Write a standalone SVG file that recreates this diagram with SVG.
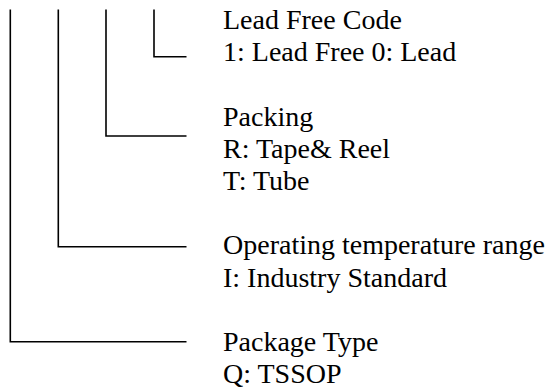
<svg xmlns="http://www.w3.org/2000/svg" width="549" height="390" viewBox="0 0 549 390">
<style>
.c{fill:none;stroke:#000;stroke-width:1.6;stroke-linecap:butt;stroke-linejoin:miter}
.t{font-family:"Liberation Serif","Times New Roman",serif;font-size:28px;fill:#000}
</style>
<rect width="549" height="390" fill="#fff"/>
<g id="connectors">
<path class="c" d="M154,9.5 V56.7 H186.5"/>
<path class="c" d="M106,9.5 V136 H186.5"/>
<path class="c" d="M58.3,9.5 V246.7 H186.5"/>
<path class="c" d="M10.3,9.5 V341.7 H186.5"/>
</g>
<g id="lead-free">
<text class="t" x="223" y="29">Lead Free Code</text>
<text class="t" x="223" y="61.2">1: Lead Free 0: Lead</text>
</g>
<g id="packing">
<text class="t" x="223" y="125.6">Packing</text>
<text class="t" x="223" y="157.8">R: Tape&amp; Reel</text>
<text class="t" x="223" y="190">T: Tube</text>
</g>
<g id="temperature">
<text class="t" x="223" y="254.4">Operating temperature range</text>
<text class="t" x="223" y="286.6">I: Industry Standard</text>
</g>
<g id="package">
<text class="t" x="223" y="350.5">Package Type</text>
<text class="t" x="223" y="382.7">Q: TSSOP</text>
</g>
</svg>
